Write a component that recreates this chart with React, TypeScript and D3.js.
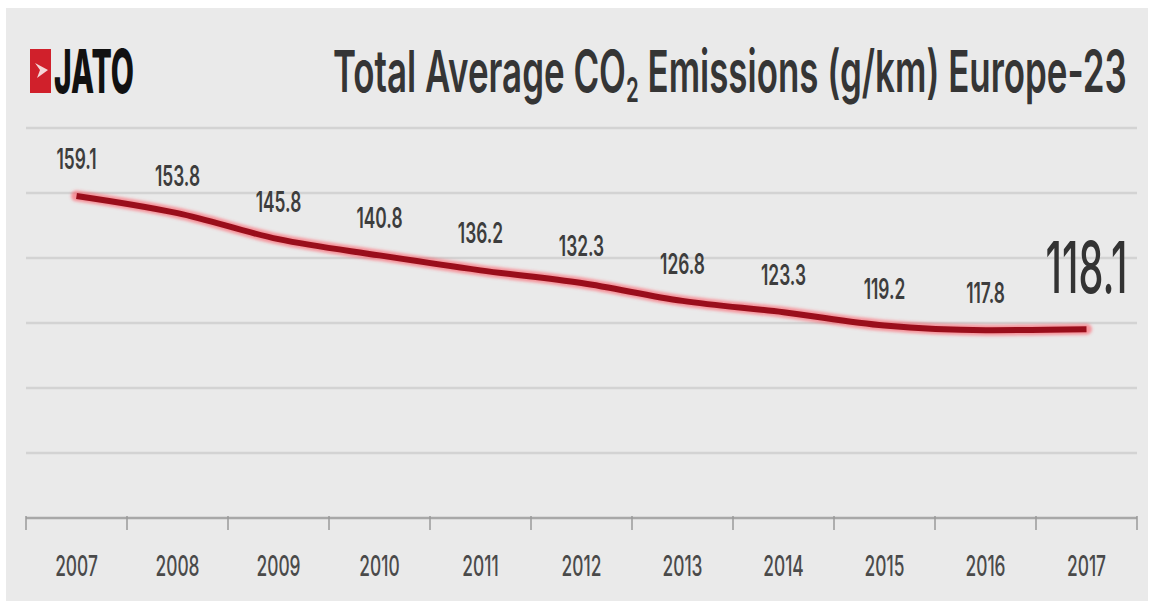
import React, { useLayoutEffect, useRef, useState } from "react";
import * as d3 from "d3";

// Average CO2 emissions, Europe-23, by year
const years = ["2007", "2008", "2009", "2010", "2011", "2012", "2013", "2014", "2015", "2016", "2017"];
const emissions = [159.1, 153.8, 145.8, 140.8, 136.2, 132.3, 126.8, 123.3, 119.2, 117.8, 118.1];
const gridValues = [80, 100, 120, 140, 160, 180];
const titleMain = "Total Average CO";
const titleRest = " Emissions (g/km) Europe-23";

const W = 1153;
const H = 603;
const FONT = "Inter, 'Noto Sans', sans-serif";

// Text squeezed horizontally so that it spans a given width
function FitText({
  x,
  y,
  width,
  children,
  ...rest
}: { x: number; y: number; width: number; children: React.ReactNode } & React.SVGProps<SVGTextElement>) {
  const ref = useRef<SVGTextElement>(null);
  const [sx, setSx] = useState(1);
  useLayoutEffect(() => {
    if (ref.current) {
      const w = ref.current.getBBox().width;
      if (w > 0) setSx(width / w);
    }
  }, [width]);
  return (
    <text ref={ref} transform={`translate(${x},${y}) scale(${sx},1)`} {...rest}>
      {children}
    </text>
  );
}

export default function App() {
  const x = d3.scaleBand<string>().domain(years).range([26, 1137]).paddingInner(0).paddingOuter(0);
  const y = d3.scaleLinear().domain([60, 180]).range([518, 128]);
  const cx = (yr: string) => (x(yr) as number) + x.bandwidth() / 2;

  const pts: [number, number][] = years.map((yr, i) => [cx(yr), y(emissions[i])]);
  const line = d3.line<[number, number]>().x((d) => d[0]).y((d) => d[1]).curve(d3.curveMonotoneX);
  const path = line(pts) || "";

  const boundaries = [...years.map((yr) => x(yr) as number), x.range()[1]];
  const [x0, x1] = x.range();
  const last = years.length - 1;

  return (
    <svg
      width={W}
      height={H}
      viewBox={`0 0 ${W} ${H}`}
      style={{ position: "absolute", left: 0, top: 0, background: "#ffffff" }}
    >
      <defs>
        <filter id="glow" x="-5%" y="-50%" width="110%" height="200%">
          <feGaussianBlur stdDeviation="1.6" />
        </filter>
        <filter id="soft" x="-5%" y="-50%" width="110%" height="200%">
          <feGaussianBlur stdDeviation="0.6" />
        </filter>
      </defs>

      {/* panel */}
      <rect x={6} y={8} width={1142} height={593} fill="#eaeaea" />

      {/* logo */}
      <g>
        <rect x={30} y={49} width={21} height={44} fill="#d0202b" />
        <path d="M35,63 L48,70 L37,78 L40,70 Z" fill="#f4d6d6" />
        <FitText x={54} y={93} width={80} fontFamily={FONT} fontWeight={800} fontSize={61} fill="#111">
          JATO
        </FitText>
      </g>

      {/* title */}
      <FitText x={333} y={92} width={794} fontFamily={FONT} fontWeight={600} fontSize={58} fill="#353535">
        {titleMain}
        <tspan fontSize={34} dy={10}>2</tspan>
        <tspan dy={-10}>{titleRest}</tspan>
      </FitText>

      {/* gridlines */}
      <g filter="url(#soft)">
        {gridValues.map((v) => (
          <line key={v} x1={x0} x2={x1} y1={y(v)} y2={y(v)} stroke="#d3d3d3" strokeWidth={2.5} />
        ))}
      </g>

      {/* x axis */}
      <g>
        <line x1={x0} x2={x1} y1={y(60)} y2={y(60)} stroke="#a8a8a8" strokeWidth={2.5} />
        {boundaries.map((b, i) => (
          <line key={i} x1={b} x2={b} y1={y(60) - 2} y2={y(60) + 12} stroke="#9a9a9a" strokeWidth={1.5} />
        ))}
        {years.map((yr) => (
          <text
            key={yr}
            transform={`translate(${cx(yr)},${576}) scale(0.62,1)`}
            textAnchor="middle"
            fontFamily={FONT}
            fontWeight={500}
            fontSize={28}
            fill="#4a4a4a"
            style={{ fontVariantNumeric: "proportional-nums" }}
          >
            {yr}
          </text>
        ))}
      </g>

      {/* emissions line */}
      <path d={path} fill="none" stroke="#ff4a5a" strokeOpacity={0.55} strokeWidth={11} strokeLinecap="round" filter="url(#glow)" />
      <path d={path} fill="none" stroke="#9a0e1b" strokeWidth={6} strokeLinecap="butt" />

      {/* value labels */}
      {years.map((yr, i) =>
        i === last ? (
          <text
            key={yr}
            transform={`translate(${cx(yr)},${y(emissions[i]) - 36}) scale(0.55,1)`}
            textAnchor="middle"
            fontFamily={FONT}
            fontWeight={500}
            fontSize={72}
            fill="#333"
            style={{ fontVariantNumeric: "proportional-nums" }}
          >
            {emissions[i].toFixed(1)}
          </text>
        ) : (
          <text
            key={yr}
            transform={`translate(${cx(yr)},${y(emissions[i]) - 27}) scale(0.62,1)`}
            textAnchor="middle"
            fontFamily={FONT}
            fontWeight={600}
            fontSize={28}
            fill="#3d3d3d"
            style={{ fontVariantNumeric: "proportional-nums" }}
          >
            {emissions[i].toFixed(1)}
          </text>
        )
      )}
    </svg>
  );
}
